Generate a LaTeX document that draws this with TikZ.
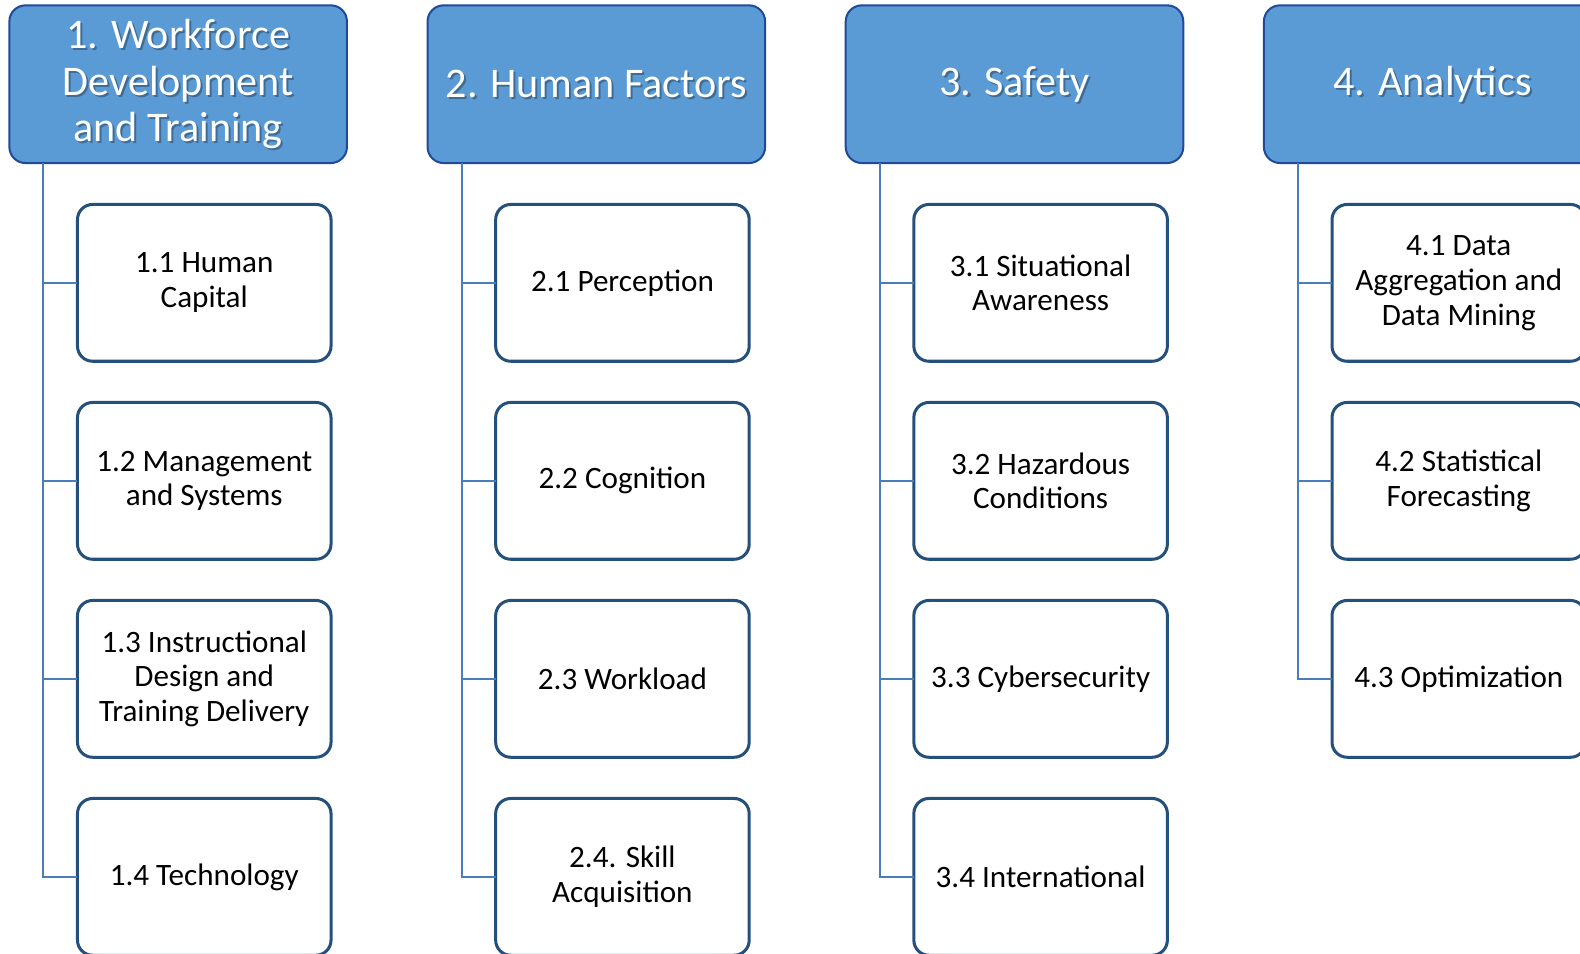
\documentclass[tikz,border=0pt]{standalone}
\usepackage{fontspec}
\setmainfont{Carlito}
\definecolor{hdrfill}{HTML}{5B9BD5}
\definecolor{hdrdraw}{HTML}{1F4A9C}
\definecolor{boxdraw}{HTML}{25507C}
\definecolor{linec}{HTML}{4A7EBB}
\begin{document}
\begin{tikzpicture}[x=1bp,y=-1bp,
  hdr/.style={draw=hdrdraw, line width=2bp, fill=hdrfill, rounded corners=16bp,
    minimum width=335bp, minimum height=156.5bp, inner sep=0pt, outer sep=0pt, anchor=north west},
  hdrtext/.style={text=white, font=\fontsize{42}{46.5}\selectfont, align=center, inner sep=0pt},
  hdrshadow/.style={text=black, opacity=0.3, font=\fontsize{42}{46.5}\selectfont, align=center, inner sep=0pt},
  child/.style={draw=boxdraw, line width=3bp, fill=white, rounded corners=15bp,
    minimum width=251.6bp, minimum height=155.6bp, inner sep=0pt, outer sep=0pt,
    font=\fontsize{31}{34.7}\selectfont, align=center},
  conn/.style={draw=linec, line width=2bp}]
\useasboundingbox (0,0) rectangle (1568,946.75);
\clip (0,0) rectangle (1568,946.75);

% headers
\node[hdr] (h1) at (9.3,5.3) {};
\node[hdr] (h2) at (424.3,5.3) {};
\node[hdr] (h3) at (839.3,5.3) {};
\node[hdr] (h4) at (1254.3,5.3) {};

\node[hdrshadow] (h1s) at ([shift={(2bp,-2bp)}]h1.center) {1. Workforce\\Development\\and Training};
\node[hdrtext] (h1t) at (h1.center) {1. Workforce\\Development\\and Training};
\node[hdrshadow] (h2s) at ([shift={(2bp,-2bp)}]h2.center) {2. Human Factors};
\node[hdrtext] (h2t) at (h2.center) {2. Human Factors};
\node[hdrshadow] (h3s) at ([shift={(2bp,-2bp)}]h3.center) {3. Safety};
\node[hdrtext] (h3t) at (h3.center) {3. Safety};
\node[hdrshadow] (h4s) at ([shift={(2bp,-2bp)}]h4.center) {4. Analytics};
\node[hdrtext] (h4t) at (h4.center) {4. Analytics};

% trunk coordinates
\coordinate (t1) at ([xshift=33.7bp]h1.south west);
\coordinate (t2) at ([xshift=33.7bp]h2.south west);
\coordinate (t3) at ([xshift=33.7bp]h3.south west);
\coordinate (t4) at ([xshift=33.7bp]h4.south west);

% column 1
\node[child] (c11) at (202.7,280.7) {1.1 Human\\Capital};
\node[child] (c12) at (202.7,477.2) {1.2 Management\\and Systems};
\node[child] (c13) at (202.7,673.7) {1.3 Instructional\\Design and\\Training Delivery};
\node[child] (c14) at (202.7,870.2) {1.4 Technology};

% column 2
\node[child] (c21) at (617.7,280.7) {2.1 Perception};
\node[child] (c22) at (617.7,477.2) {2.2 Cognition};
\node[child] (c23) at (617.7,673.7) {2.3 Workload};
\node[child] (c24) at (617.7,870.2) {2.4. Skill\\Acquisition};

% column 3
\node[child] (c31) at (1032.7,280.7) {3.1 Situational\\Awareness};
\node[child] (c32) at (1032.7,477.2) {3.2 Hazardous\\Conditions};
\node[child] (c33) at (1032.7,673.7) {3.3 Cybersecurity};
\node[child] (c34) at (1032.7,870.2) {3.4 International};

% column 4
\node[child] (c41) at (1447.7,280.7) {4.1 Data\\Aggregation and\\Data Mining};
\node[child] (c42) at (1447.7,477.2) {4.2 Statistical\\Forecasting};
\node[child] (c43) at (1447.7,673.7) {4.3 Optimization};

% connectors
\draw[conn] (t1) |- (c14.west);
\draw[conn] (c11.west) -- (c11.west -| t1);
\draw[conn] (c12.west) -- (c12.west -| t1);
\draw[conn] (c13.west) -- (c13.west -| t1);

\draw[conn] (t2) |- (c24.west);
\draw[conn] (c21.west) -- (c21.west -| t2);
\draw[conn] (c22.west) -- (c22.west -| t2);
\draw[conn] (c23.west) -- (c23.west -| t2);

\draw[conn] (t3) |- (c34.west);
\draw[conn] (c31.west) -- (c31.west -| t3);
\draw[conn] (c32.west) -- (c32.west -| t3);
\draw[conn] (c33.west) -- (c33.west -| t3);

\draw[conn] (t4) |- (c43.west);
\draw[conn] (c41.west) -- (c41.west -| t4);
\draw[conn] (c42.west) -- (c42.west -| t4);
\end{tikzpicture}
\end{document}
